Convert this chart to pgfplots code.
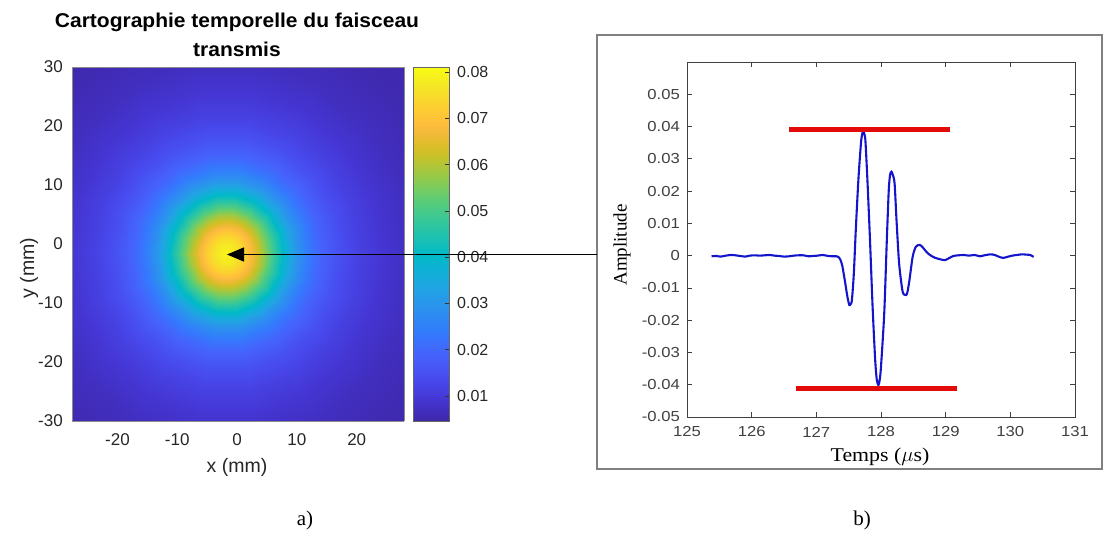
\documentclass[border=0pt]{standalone}
\usepackage{pgfplots}
\pgfplotsset{compat=1.18}
\usepackage{pgfplotstable}
\usetikzlibrary{arrows.meta}
\usepackage{fontspec}
\setmainfont{Liberation Serif}
\newfontfamily\arial{Liberation Sans}
\newfontfamily\arialT[FakeStretch=1.05]{Liberation Sans}
\newfontfamily\arialS[FakeStretch=1.15]{Liberation Sans}
\newfontfamily\timesS[FakeStretch=1.12]{Liberation Serif}
\definecolor{mlgray}{rgb}{0.15,0.15,0.15}
\definecolor{wblue}{rgb}{0.08,0.08,0.80}
\definecolor{wred}{rgb}{0.89,0.04,0.04}
\pgfplotsset{colormap={parula}{
 rgb(0pt)=(0.2422,0.1504,0.6603)
 rgb(16pt)=(0.2704,0.2138,0.8346)
 rgb(32pt)=(0.2813,0.2985,0.9397)
 rgb(48pt)=(0.2710,0.3860,0.9898)
 rgb(64pt)=(0.2006,0.4803,0.9906)
 rgb(80pt)=(0.1716,0.5655,0.9393)
 rgb(96pt)=(0.1288,0.6408,0.8910)
 rgb(112pt)=(0.0433,0.7039,0.8242)
 rgb(120pt)=(0.0018,0.7275,0.7752)
 rgb(128pt)=(0.0770,0.7468,0.7224)
 rgb(144pt)=(0.2061,0.7808,0.6065)
 rgb(160pt)=(0.3671,0.8021,0.4563)
 rgb(176pt)=(0.5886,0.7913,0.2833)
 rgb(192pt)=(0.7945,0.7554,0.1570)
 rgb(200pt)=(0.8804,0.7372,0.1650)
 rgb(208pt)=(0.9523,0.7284,0.2237)
 rgb(213pt)=(0.9900,0.7365,0.2429)
 rgb(224pt)=(0.9938,0.7974,0.1974)
 rgb(240pt)=(0.9601,0.8963,0.1507)
 rgb(255pt)=(0.9769,0.9839,0.0805)
}}
% radial profile of the transmitted beam map: angle (deg), radius (mm), amplitude
\pgfplotstableread[row sep=\\]{
a r c\\
0 0 0.0795\\20 0 0.0795\\40 0 0.0795\\60 0 0.0795\\80 0 0.0795\\100 0 0.0795\\120 0 0.0795\\140 0 0.0795\\160 0 0.0795\\180 0 0.0795\\200 0 0.0795\\220 0 0.0795\\240 0 0.0795\\260 0 0.0795\\280 0 0.0795\\300 0 0.0795\\320 0 0.0795\\340 0 0.0795\\360 0 0.0795\\
0 1.5 0.0775\\20 1.5 0.0775\\40 1.5 0.0775\\60 1.5 0.0775\\80 1.5 0.0775\\100 1.5 0.0775\\120 1.5 0.0775\\140 1.5 0.0775\\160 1.5 0.0775\\180 1.5 0.0775\\200 1.5 0.0775\\220 1.5 0.0775\\240 1.5 0.0775\\260 1.5 0.0775\\280 1.5 0.0775\\300 1.5 0.0775\\320 1.5 0.0775\\340 1.5 0.0775\\360 1.5 0.0775\\
0 3 0.0730\\20 3 0.0730\\40 3 0.0730\\60 3 0.0730\\80 3 0.0730\\100 3 0.0730\\120 3 0.0730\\140 3 0.0730\\160 3 0.0730\\180 3 0.0730\\200 3 0.0730\\220 3 0.0730\\240 3 0.0730\\260 3 0.0730\\280 3 0.0730\\300 3 0.0730\\320 3 0.0730\\340 3 0.0730\\360 3 0.0730\\
0 4.5 0.0668\\20 4.5 0.0668\\40 4.5 0.0668\\60 4.5 0.0668\\80 4.5 0.0668\\100 4.5 0.0668\\120 4.5 0.0668\\140 4.5 0.0668\\160 4.5 0.0668\\180 4.5 0.0668\\200 4.5 0.0668\\220 4.5 0.0668\\240 4.5 0.0668\\260 4.5 0.0668\\280 4.5 0.0668\\300 4.5 0.0668\\320 4.5 0.0668\\340 4.5 0.0668\\360 4.5 0.0668\\
0 6 0.0592\\20 6 0.0592\\40 6 0.0592\\60 6 0.0592\\80 6 0.0592\\100 6 0.0592\\120 6 0.0592\\140 6 0.0592\\160 6 0.0592\\180 6 0.0592\\200 6 0.0592\\220 6 0.0592\\240 6 0.0592\\260 6 0.0592\\280 6 0.0592\\300 6 0.0592\\320 6 0.0592\\340 6 0.0592\\360 6 0.0592\\
0 7.5 0.0510\\20 7.5 0.0510\\40 7.5 0.0510\\60 7.5 0.0510\\80 7.5 0.0510\\100 7.5 0.0510\\120 7.5 0.0510\\140 7.5 0.0510\\160 7.5 0.0510\\180 7.5 0.0510\\200 7.5 0.0510\\220 7.5 0.0510\\240 7.5 0.0510\\260 7.5 0.0510\\280 7.5 0.0510\\300 7.5 0.0510\\320 7.5 0.0510\\340 7.5 0.0510\\360 7.5 0.0510\\
0 9 0.0430\\20 9 0.0430\\40 9 0.0430\\60 9 0.0430\\80 9 0.0430\\100 9 0.0430\\120 9 0.0430\\140 9 0.0430\\160 9 0.0430\\180 9 0.0430\\200 9 0.0430\\220 9 0.0430\\240 9 0.0430\\260 9 0.0430\\280 9 0.0430\\300 9 0.0430\\320 9 0.0430\\340 9 0.0430\\360 9 0.0430\\
0 10.5 0.0358\\20 10.5 0.0358\\40 10.5 0.0358\\60 10.5 0.0358\\80 10.5 0.0358\\100 10.5 0.0358\\120 10.5 0.0358\\140 10.5 0.0358\\160 10.5 0.0358\\180 10.5 0.0358\\200 10.5 0.0358\\220 10.5 0.0358\\240 10.5 0.0358\\260 10.5 0.0358\\280 10.5 0.0358\\300 10.5 0.0358\\320 10.5 0.0358\\340 10.5 0.0358\\360 10.5 0.0358\\
0 12 0.0292\\20 12 0.0292\\40 12 0.0292\\60 12 0.0292\\80 12 0.0292\\100 12 0.0292\\120 12 0.0292\\140 12 0.0292\\160 12 0.0292\\180 12 0.0292\\200 12 0.0292\\220 12 0.0292\\240 12 0.0292\\260 12 0.0292\\280 12 0.0292\\300 12 0.0292\\320 12 0.0292\\340 12 0.0292\\360 12 0.0292\\
0 14 0.0232\\20 14 0.0232\\40 14 0.0232\\60 14 0.0232\\80 14 0.0232\\100 14 0.0232\\120 14 0.0232\\140 14 0.0232\\160 14 0.0232\\180 14 0.0232\\200 14 0.0232\\220 14 0.0232\\240 14 0.0232\\260 14 0.0232\\280 14 0.0232\\300 14 0.0232\\320 14 0.0232\\340 14 0.0232\\360 14 0.0232\\
0 16 0.0190\\20 16 0.0190\\40 16 0.0190\\60 16 0.0190\\80 16 0.0190\\100 16 0.0190\\120 16 0.0190\\140 16 0.0190\\160 16 0.0190\\180 16 0.0190\\200 16 0.0190\\220 16 0.0190\\240 16 0.0190\\260 16 0.0190\\280 16 0.0190\\300 16 0.0190\\320 16 0.0190\\340 16 0.0190\\360 16 0.0190\\
0 19 0.0148\\20 19 0.0148\\40 19 0.0148\\60 19 0.0148\\80 19 0.0148\\100 19 0.0148\\120 19 0.0148\\140 19 0.0148\\160 19 0.0148\\180 19 0.0148\\200 19 0.0148\\220 19 0.0148\\240 19 0.0148\\260 19 0.0148\\280 19 0.0148\\300 19 0.0148\\320 19 0.0148\\340 19 0.0148\\360 19 0.0148\\
0 22 0.0118\\20 22 0.0118\\40 22 0.0118\\60 22 0.0118\\80 22 0.0118\\100 22 0.0118\\120 22 0.0118\\140 22 0.0118\\160 22 0.0118\\180 22 0.0118\\200 22 0.0118\\220 22 0.0118\\240 22 0.0118\\260 22 0.0118\\280 22 0.0118\\300 22 0.0118\\320 22 0.0118\\340 22 0.0118\\360 22 0.0118\\
0 26 0.0092\\20 26 0.0092\\40 26 0.0092\\60 26 0.0092\\80 26 0.0092\\100 26 0.0092\\120 26 0.0092\\140 26 0.0092\\160 26 0.0092\\180 26 0.0092\\200 26 0.0092\\220 26 0.0092\\240 26 0.0092\\260 26 0.0092\\280 26 0.0092\\300 26 0.0092\\320 26 0.0092\\340 26 0.0092\\360 26 0.0092\\
0 31 0.0071\\20 31 0.0071\\40 31 0.0071\\60 31 0.0071\\80 31 0.0071\\100 31 0.0071\\120 31 0.0071\\140 31 0.0071\\160 31 0.0071\\180 31 0.0071\\200 31 0.0071\\220 31 0.0071\\240 31 0.0071\\260 31 0.0071\\280 31 0.0071\\300 31 0.0071\\320 31 0.0071\\340 31 0.0071\\360 31 0.0071\\
0 37 0.0057\\20 37 0.0057\\40 37 0.0057\\60 37 0.0057\\80 37 0.0057\\100 37 0.0057\\120 37 0.0057\\140 37 0.0057\\160 37 0.0057\\180 37 0.0057\\200 37 0.0057\\220 37 0.0057\\240 37 0.0057\\260 37 0.0057\\280 37 0.0057\\300 37 0.0057\\320 37 0.0057\\340 37 0.0057\\360 37 0.0057\\
0 46 0.0048\\20 46 0.0048\\40 46 0.0048\\60 46 0.0048\\80 46 0.0048\\100 46 0.0048\\120 46 0.0048\\140 46 0.0048\\160 46 0.0048\\180 46 0.0048\\200 46 0.0048\\220 46 0.0048\\240 46 0.0048\\260 46 0.0048\\280 46 0.0048\\300 46 0.0048\\320 46 0.0048\\340 46 0.0048\\360 46 0.0048\\
}\heatdata

\begin{document}
\begin{tikzpicture}
\useasboundingbox (0pt,0pt) rectangle (1106pt,538pt);
%---------------- a) heat map ----------------
\begin{axis}[
 at={(72pt,117pt)}, anchor=south west,
 scale only axis, width=332pt, height=354pt,
 view={0}{90},
 xmin=-27.6, xmax=27.9, ymin=-30, ymax=30,
 xtick={-20,-10,0,10,20}, xticklabels={-20,-10,0,10,20},
 ytick={-30,-20,-10,0,10,20,30}, yticklabels={-30,-20,-10,0,10,20,30},
 major tick length=0pt, tick style={draw=none},
 axis on top,
 axis line style={draw=black!45, line width=0.5pt},
 xticklabel style={font=\arial\fontsize{17}{17}\selectfont, text=mlgray, anchor=center, inner sep=0pt, yshift=-19pt},
 yticklabel style={font=\arial\fontsize{17}{17}\selectfont, text=mlgray, anchor=east, inner sep=0pt, xshift=-9pt},
 colormap name=parula,
 point meta min=0.0046, point meta max=0.0811,
 colorbar,
 colorbar/width=36pt,
 colorbar shift/.style={xshift=0pt},
 colorbar style={
   at={(parent axis.north east)}, anchor=north west, xshift=9pt,
   scale only axis, width=36pt, height=354pt,
   scaled y ticks=false,
   ytick={0.01,0.02,0.03,0.04,0.05,0.06,0.07,0.08},
   yticklabels={0.01,0.02,0.03,0.04,0.05,0.06,0.07,0.08},
   ytick pos=right, yticklabel pos=right,
   ytick align=inside, major tick length=4pt,
   tick style={draw=black!80, line width=0.6pt},
   axis line style={draw=black!60, line width=0.6pt},
   yticklabel style={font=\arial\fontsize{16}{16}\selectfont, text=mlgray, anchor=west, inner sep=0pt, xshift=8pt},
 },
]
\addplot3[surf, shader=interp, mesh/rows=17, mesh/cols=19, point meta=\thisrow{c}]
  table[x expr={\thisrow{r}*cos(\thisrow{a})-1.8}, y expr={1.06*\thisrow{r}*sin(\thisrow{a})-1.6}, z expr={\thisrow{c}}] {\heatdata};
\end{axis}
%---------------- b) waveform ----------------
\draw[draw=black!50, line width=1.6pt] (597pt,69pt) rectangle (1102pt,503pt);
\begin{axis}[
 at={(687pt,121pt)}, anchor=south west,
 scale only axis, width=388pt, height=355pt,
 xmin=125, xmax=131, ymin=-0.05, ymax=0.06,
 scaled y ticks=false, scaled x ticks=false,
 xtick={125,126,127,128,129,130,131}, xticklabels={125,126,127,128,129,130,131},
 ytick={-0.05,-0.04,-0.03,-0.02,-0.01,0,0.01,0.02,0.03,0.04,0.05},
 yticklabels={-0.05,-0.04,-0.03,-0.02,-0.01,0,0.01,0.02,0.03,0.04,0.05},
 xtick pos=both, ytick pos=both, tick align=inside, major tick length=5pt,
 axis line style={draw=black!75, line width=0.7pt},
 tick style={draw=black!75, line width=0.7pt},
 xticklabel style={font=\arialS\fontsize{14.5}{14.5}\selectfont, text=black!75, anchor=center, inner sep=0pt, yshift=-15pt},
 yticklabel style={font=\arialS\fontsize{14.5}{14.5}\selectfont, text=black!75, anchor=east, inner sep=0pt, xshift=-7pt},
]
\addplot[wblue, line width=2.1pt, smooth, tension=0.45] coordinates {
(125.38,-0.0002) (125.45,-0.0001) (125.52,-0.0003) (125.60,0.0000) (125.68,0.0002) (125.75,0.0001)
(125.82,-0.0001) (125.90,-0.0003) (125.97,0.0000) (126.05,0.0001) (126.12,0.0000) (126.20,0.0001)
(126.28,0.0002) (126.35,0.0000) (126.42,-0.0001) (126.50,-0.0003) (126.58,-0.0002) (126.65,0.0000)
(126.72,0.0001) (126.80,0.0001) (126.88,-0.0002) (126.95,-0.0001) (127.02,0.0000) (127.10,0.0002)
(127.18,-0.0001) (127.25,-0.0002) (127.31,-0.0002) (127.34,-0.0004) (127.37,-0.0012) (127.40,-0.0030)
(127.44,-0.0076) (127.48,-0.0127) (127.51,-0.0153) (127.53,-0.0150) (127.55,-0.0138) (127.58,-0.0055)
(127.61,0.0079) (127.65,0.0234) (127.69,0.0348) (127.71,0.0378) (127.73,0.0384) (127.745,0.0375)
(127.76,0.0353) (127.79,0.0234) (127.83,0.0048) (127.87,-0.0158) (127.91,-0.0323) (127.935,-0.0385)
(127.96,-0.0401) (127.98,-0.0385) (128.00,-0.0344) (128.05,-0.0179) (128.09,0.0048) (128.12,0.0203)
(128.14,0.0250) (128.16,0.0260) (128.18,0.0252) (128.21,0.0224) (128.24,0.0110) (128.28,-0.0024)
(128.33,-0.0107) (128.36,-0.0121) (128.39,-0.0122) (128.41,-0.0112) (128.44,-0.0076) (128.49,-0.0003)
(128.54,0.0028) (128.60,0.0033) (128.64,0.0027) (128.68,0.0017) (128.73,0.0006) (128.78,-0.0001)
(128.84,-0.0007) (128.89,-0.0010) (128.95,-0.0013) (128.99,-0.0014) (129.05,-0.0008) (129.12,-0.0001)
(129.20,0.0001) (129.28,0.0002) (129.36,0.0000) (129.45,0.0002) (129.53,-0.0002) (129.60,0.0001)
(129.69,0.0004) (129.76,0.0002) (129.83,-0.0004) (129.89,-0.0007) (129.95,-0.0004) (130.03,0.0000)
(130.10,0.0002) (130.18,0.0004) (130.25,0.0003) (130.31,0.0002) (130.36,-0.0004)
};
\addplot[wred, line width=4.8pt] coordinates {(126.58,0.0392) (129.06,0.0392)};
\addplot[wred, line width=4.8pt] coordinates {(126.69,-0.0411) (129.17,-0.0411)};
\end{axis}
%---------------- texts ----------------
\node[font=\arialT\bfseries\fontsize{20}{24}\selectfont, text=black] at (237pt,516pt) {Cartographie temporelle du faisceau};
\node[font=\arialT\bfseries\fontsize{20}{24}\selectfont, text=black] at (237pt,489pt) {transmis};
\node[font=\arial\fontsize{19.5}{20}\selectfont, text=mlgray] at (237pt,71pt) {x (mm)};
\node[font=\arial\fontsize{19.5}{20}\selectfont, text=mlgray, rotate=90] at (29pt,270pt) {y (mm)};
\node[font=\rmfamily\fontsize{19}{20}\selectfont, rotate=90] at (622pt,293pt) {Amplitude};
\node[font=\timesS\fontsize{19.5}{20}\selectfont] at (880pt,81pt) {Temps ($\mu$s)};
\node[font=\rmfamily\fontsize{21}{22}\selectfont] at (305pt,18pt) {a)};
\node[font=\rmfamily\fontsize{21}{22}\selectfont] at (862pt,18pt) {b)};
\draw[line width=1.3pt, -{Triangle[length=17pt, width=14pt]}] (597pt,283.5pt) -- (227pt,283.5pt);
\end{tikzpicture}
\end{document}
